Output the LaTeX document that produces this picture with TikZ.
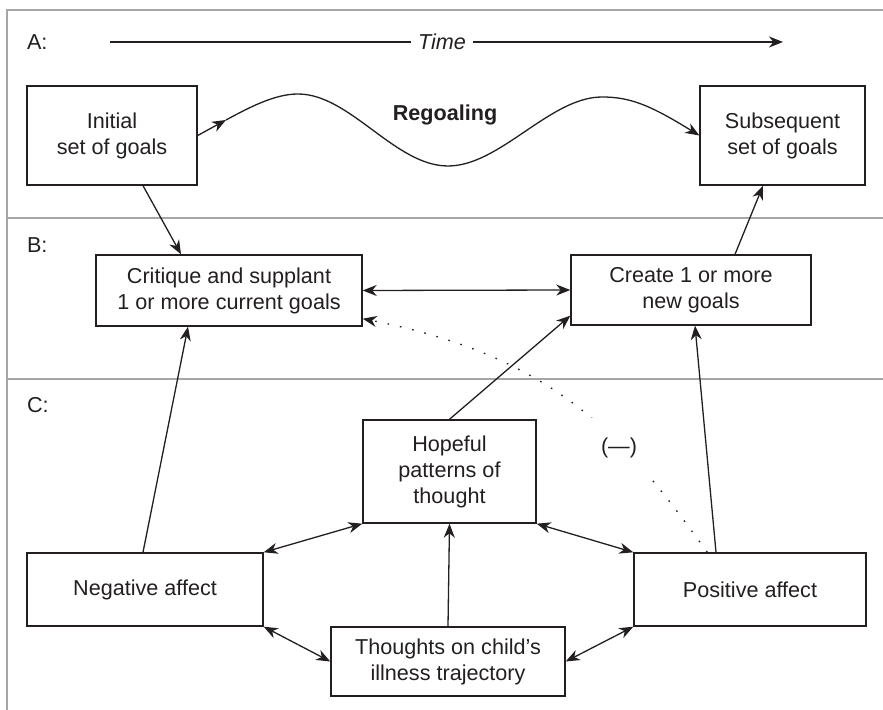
\documentclass[tikz,border=0pt]{standalone}
\usepackage{fontspec}
\setmainfont{Liberation Sans}
\usetikzlibrary{arrows.meta}
\definecolor{inkgray}{HTML}{231F20}
\definecolor{rulegray}{HTML}{A6A6A6}

\begin{document}
\begin{tikzpicture}[x=0.5pt, y=-0.5pt,
    every node/.style={font=\fontsize{10.8}{13}\selectfont, text=inkgray},
    goalbox/.style={draw=inkgray, line width=0.7pt, rectangle, align=center, inner sep=0pt},
    link/.style={draw=inkgray, line width=0.65pt},
    dotlink/.style={link, dash pattern=on 0.8pt off 5.5pt},
    >={Stealth[length=7pt, width=5.5pt, inset=2.2pt]}]
                \useasboundingbox (0, 0) rectangle (883, 710);

                \draw[rulegray, line width=0.75pt] (7, 710) -- (7, 10) -- (883, 10);
                \draw[rulegray, line width=0.75pt] (7, 218) -- (883, 218);
                \draw[rulegray, line width=0.75pt] (7, 379) -- (883, 379);

                \node[anchor=west] (labA) at (20, 42) {A:};
                \node[anchor=west] (labB) at (20, 245) {B:};
                \node[anchor=west] (labC) at (20, 405) {C:};

                \node[goalbox, minimum width=85pt, minimum height=49.5pt] (init) at (112, 135.5) {Initial\\set of goals};
                \node[goalbox, minimum width=82.5pt, minimum height=49.5pt] (subseq) at (782.5, 135.5) {Subsequent\\set of goals};
                \node[goalbox, minimum width=133pt, minimum height=35.5pt] (critique) at (229, 290.5) {Critique and supplant\\1 or more current goals};
                \node[goalbox, minimum width=120pt, minimum height=35pt] (create) at (691, 290) {Create 1 or more\\new goals};
                \node[goalbox, minimum width=86.5pt, minimum height=51.5pt] (hopeful) at (449.5, 471.5) {Hopeful\\patterns of\\thought};
                \node[goalbox, minimum width=118pt, minimum height=36.5pt] (negaff) at (145, 589.5) {Negative affect};
                \node[goalbox, minimum width=116pt, minimum height=36.5pt] (posaff) at (750, 589.5) {Positive affect};
                \node[goalbox, minimum width=117pt, minimum height=34.5pt] (thoughts) at (448, 661.5) {Thoughts on child’s\\illness trajectory};

                \node[font=\fontsize{10.8}{13}\selectfont\itshape] (time) at (442, 42) {Time};
                \node[font=\fontsize{10.8}{13}\selectfont\bfseries] (regoal) at (445, 115) {Regoaling};
                \coordinate (tstart) at (110, 42);
                \coordinate (tend) at (783, 42);
                \draw[link] (tstart) -- (time.west);
                \draw[link, ->] (time.east) -- (tend);

                \coordinate (wmid) at (226, 120);
                \draw[link, ->] (init.east) -- (wmid);
                \draw[link, ->] (wmid) .. controls (250, 107) and (275, 94) .. (298, 94)
                    .. controls (350, 94) and (395, 166) .. (448, 166)
                    .. controls (500, 166) and (550, 97) .. (602, 97)
                    .. controls (630, 97) and (650, 105) .. (subseq.west);

                \draw[link, ->] ([xshift=15.5pt]init.south) -- ([xshift=-24pt]critique.north);
                \draw[link, ->] ([xshift=22pt]create.north) -- ([xshift=-9.75pt]subseq.south);
                \draw[link, <->] (critique.east) -- (create.west);
                \draw[dotlink, ->] ([xshift=37pt]posaff.north west) .. controls (628, 443) and (562, 358) .. ([yshift=4pt]critique.south east);
                \node[fill=white, inner xsep=6pt, inner ysep=10pt] (minus) at (619, 448) {(—)};
                \draw[link, ->] (hopeful.north) -- ([yshift=5pt]create.south west);
                \draw[link, ->] ([xshift=-1pt]negaff.north) -- ([xshift=-20.5pt]critique.south);
                \draw[link, ->] ([xshift=-17pt]posaff.north) -- ([xshift=2pt]create.south);
                \draw[link, ->] (thoughts.north) -- (hopeful.south);
                \draw[link, <->] (negaff.north east) -- (hopeful.south west);
                \draw[link, <->] (hopeful.south east) -- (posaff.north west);
                \draw[link, <->] (negaff.south east) -- (thoughts.west);
                \draw[link, <->] (thoughts.east) -- (posaff.south west);
            \end{tikzpicture}
\end{document}
